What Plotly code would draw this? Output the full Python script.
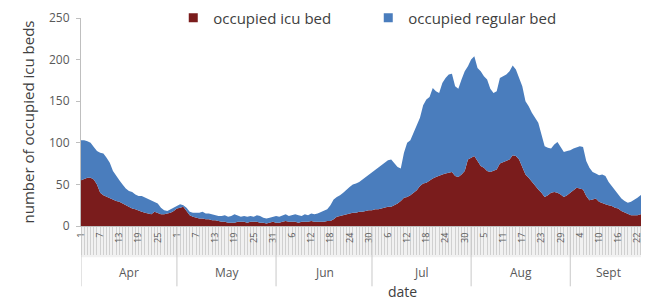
import pandas as pd
import plotly.graph_objects as go

start_date = "2020-04-01"

icu_beds = [
    # Apr
    55, 57, 58, 58, 56, 50, 40, 37, 35, 34, 32, 30, 29, 27, 25, 23, 21, 20, 18, 17,
    16, 15, 14, 17, 15, 14, 14, 15, 16, 18,
    # May
    21, 22, 23, 18, 13, 11, 10, 9, 9, 8, 8, 7, 7, 6, 5, 5, 4, 4, 4, 5,
    5, 5, 4, 5, 5, 5, 4, 4, 3, 4, 5,
    # Jun
    4, 4, 5, 6, 5, 5, 5, 4, 5, 5, 5, 6, 5, 5, 5, 5, 6, 6, 8, 11,
    12, 13, 14, 15, 16, 16, 17, 17, 18, 19,
    # Jul
    19, 20, 20, 21, 22, 23, 23, 25, 27, 30, 34, 35, 37, 40, 43, 48, 51, 52, 55, 57,
    59, 61, 62, 63, 64, 65, 60, 59, 62, 66, 80,
    # Aug
    82, 84, 78, 72, 70, 66, 65, 67, 68, 75, 77, 79, 80, 85, 84, 80, 70, 62, 58, 53,
    48, 44, 40, 35, 37, 40, 41, 40, 38, 35, 37,
    # Sep
    40, 43, 46, 45, 44, 36, 31, 32, 33, 29, 27, 26, 25, 24, 22, 21, 18, 16, 14, 13,
    13, 13, 14, 15,
]

regular_beds = [
    # Apr
    48, 46, 44, 42, 39, 40, 48, 50, 47, 42, 34, 30, 26, 23, 20, 19, 20, 18, 18, 19,
    18, 17, 16, 11, 12, 8, 5, 3, 4, 4,
    # May
    3, 4, 2, 4, 4, 5, 6, 7, 8, 7, 7, 7, 6, 6, 7, 8, 7, 8, 10, 7,
    6, 7, 7, 7, 6, 8, 8, 6, 6, 6, 6,
    # Jun
    8, 7, 8, 8, 7, 8, 9, 9, 7, 9, 8, 9, 9, 10, 12, 14, 14, 19, 24, 24,
    25, 27, 30, 32, 34, 35, 36, 39, 40, 43,
    # Jul
    46, 48, 51, 53, 55, 56, 57, 51, 44, 39, 54, 65, 66, 72, 77, 82, 94, 100, 100, 109,
    103, 99, 110, 115, 118, 118, 108, 106, 114, 120, 112,
    # Aug
    118, 120, 112, 114, 110, 110, 100, 93, 94, 103, 103, 103, 106, 108, 104, 98, 98, 88, 86, 83,
    82, 80, 70, 61, 57, 53, 57, 61, 57, 54, 53,
    # Sep
    51, 50, 49, 51, 51, 42, 39, 33, 30, 32, 35, 34, 28, 24, 21, 17, 15, 14, 14, 16,
    18, 21, 23, 25,
]

month_names = ["Apr", "May", "Jun", "Jul", "Aug", "Sept"]
series_names = ["occupied icu bed", "occupied regular bed"]
y_ticks = [0, 50, 100, 150, 200, 250]

dates = pd.date_range(start_date, periods=len(icu_beds), freq="D")
tick_dates = dates[::6]
tick_text = [str(d.day) for d in tick_dates]

# month boundaries derived from dates
month_starts = []
for d in dates:
    if not month_starts or d.month != month_starts[-1].month:
        month_starts.append(d)
month_ends = month_starts[1:] + [dates[-1] + pd.Timedelta(days=1)]

RED = "#7a1c1c"
BLUE = "#4a7dbd"

fig = go.Figure()
fig.add_trace(go.Scatter(
    x=dates, y=icu_beds, stackgroup="one", mode="lines",
    line=dict(width=0, color=RED), fillcolor=RED,
    name=series_names[0], showlegend=False,
))
fig.add_trace(go.Scatter(
    x=dates, y=regular_beds, stackgroup="one", mode="lines",
    line=dict(width=0, color=BLUE), fillcolor=BLUE,
    name=series_names[1], showlegend=False,
))
# legend entries with square markers
for nm, col in zip(series_names, [RED, BLUE]):
    fig.add_trace(go.Scatter(
        x=[None], y=[None], mode="markers", name=nm,
        marker=dict(symbol="square", size=9, color=col),
    ))

shapes = [
    dict(type="rect", xref="paper", yref="paper", x0=0, x1=1, y0=-0.005, y1=-0.15,
         fillcolor="#f1f1f1", line=dict(width=0), layer="below"),
]
for ms in month_starts:
    shapes.append(dict(type="line", xref="x", yref="paper", x0=ms, x1=ms,
                       y0=-0.005, y1=-0.29, line=dict(color="#c8c8c8", width=1)))

annotations = []
for nm, s, e in zip(month_names, month_starts, month_ends):
    mid = s + (e - s) / 2
    annotations.append(dict(x=mid, y=-0.225, xref="x", yref="paper", text=nm,
                            showarrow=False, font=dict(size=12, color="#595959"),
                            yanchor="middle"))
annotations.append(dict(x=0.568, y=-0.315, xref="paper", yref="paper", text="date",
                        showarrow=False, font=dict(size=14, color="#404040"),
                        yanchor="middle"))

fig.update_layout(
    width=641, height=292,
    margin=dict(l=73, r=2, t=10, b=74, autoexpand=False),
    paper_bgcolor="white", plot_bgcolor="white",
    font=dict(family="Open Sans, Arial, sans-serif", color="#404040"),
    showlegend=True,
    legend=dict(orientation="h", x=0.163, y=1.0, xanchor="left", yanchor="middle",
                font=dict(size=15, color="#404040"), entrywidth=150,
                bgcolor="rgba(0,0,0,0)", itemwidth=30, traceorder="normal"),
    shapes=shapes,
    annotations=annotations,
)
fig.update_xaxes(
    range=[dates[0], dates[-1] + pd.Timedelta(days=1)],
    tickvals=tick_dates, ticktext=tick_text, tickangle=-90,
    tickfont=dict(size=9, color="#595959"),
    ticks="outside", ticklen=28, tickcolor="#d0d0d0",
    ticklabelstandoff=-26,
    minor=dict(ticks="outside", ticklen=28, tickcolor="#d0d0d0",
               dtick=86400000, tick0=dates[0]),
    showline=True, linecolor="#bfbfbf", showgrid=False, zeroline=False,
    automargin=False,
)
fig.update_yaxes(
    range=[0, 250], tickvals=y_ticks,
    tickfont=dict(size=12, color="#595959"),
    ticks="outside", ticklen=4, tickcolor="#bfbfbf",
    ticklabelstandoff=4,
    showline=True, linecolor="#bfbfbf", showgrid=False, zeroline=False,
    title=dict(text="number of occupied icu beds", font=dict(size=15, color="#404040"),
               standoff=10),
    automargin=False,
)

fig.write_html("out.html")
